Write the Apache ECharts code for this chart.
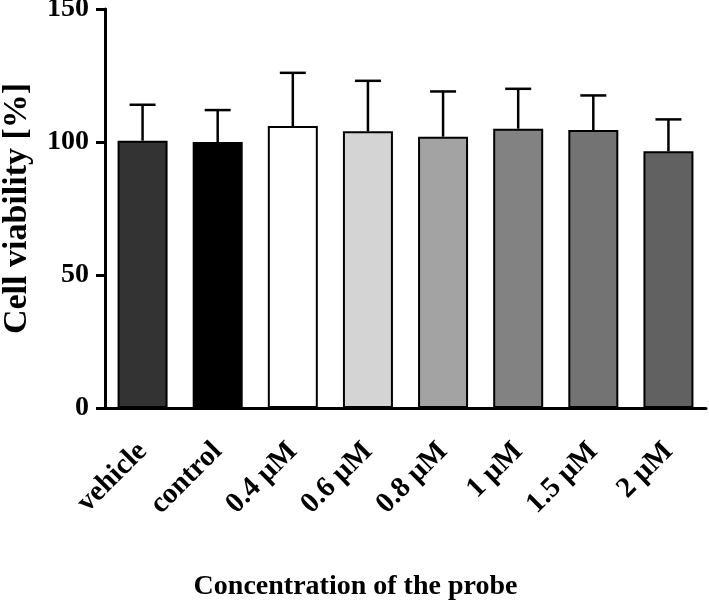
<!DOCTYPE html>
<html>
<head>
<meta charset="utf-8">
<script src="https://cdn.jsdelivr.net/npm/echarts@6/dist/echarts.min.js"></script>
<style>
  html, body { margin: 0; padding: 0; background: #fff; }
  #chart { width: 709px; height: 605px; }
</style>
</head>
<body>
<div id="chart"></div>
<script>
const categories = ['vehicle', 'control', '0.4 µM', '0.6 µM', '0.8 µM', '1 µM', '1.5 µM', '2 µM'];
const viability = [100.5, 100, 106, 104, 102, 105, 104.5, 96.5];
const errorUp = [13.5, 12, 20, 19, 17, 15, 13, 12];
const barColors = ['#333333', '#000000', '#ffffff', '#d4d4d4', '#a3a3a3', '#828282', '#737373', '#616161'];
const yTicks = [0, 50, 100, 150];

const font = 'Liberation Serif';
const chart = echarts.init(document.getElementById('chart'));

const option = {
  backgroundColor: '#fff',
  animation: false,
  grid: { left: 105, right: 3, top: 9, bottom: 197, containLabel: false, outerBoundsMode: 'none' },
  xAxis: {
    type: 'category',
    data: categories,
    name: 'Concentration of the probe',
    nameLocation: 'middle',
    nameGap: 165,
    nameTextStyle: {
      fontFamily: font, fontWeight: 'bold', fontSize: 28, color: '#000',
      padding: [0, 100, 0, 0]
    },
    axisLine: { lineStyle: { color: '#000', width: 3 } },
    axisTick: { alignWithLabel: true, length: 12, lineStyle: { color: '#000', width: 3 } },
    axisLabel: {
      rotate: 45,
      margin: 39,
      interval: 0,
      fontFamily: font,
      fontWeight: 'bold',
      fontSize: 29,
      color: '#000'
    }
  },
  yAxis: {
    type: 'value',
    min: yTicks[0],
    max: yTicks[yTicks.length - 1],
    interval: 50,
    name: 'Cell viability [%]',
    nameLocation: 'middle',
    nameGap: 71,
    nameTextStyle: { fontFamily: font, fontWeight: 'bold', fontSize: 34, color: '#000' },
    splitLine: { show: false },
    axisLine: { show: true, lineStyle: { color: '#000', width: 3 } },
    axisTick: { show: true, length: 9, lineStyle: { color: '#000', width: 3 } },
    axisLabel: {
      margin: 16,
      fontFamily: font,
      fontWeight: 'bold',
      fontSize: 28,
      color: '#000'
    }
  },
  series: [
    {
      type: 'bar',
      barWidth: 50,
      data: viability.map((v, i) => ({
        value: v,
        itemStyle: { color: barColors[i], borderColor: '#000', borderWidth: 2 }
      })),
      z: 2
    },
    {
      type: 'custom',
      z: 3,
      data: viability.map((v, i) => [i, v, v + errorUp[i]]),
      renderItem: function (params, api) {
        const base = api.coord([api.value(0), api.value(1)]);
        const top = api.coord([api.value(0), api.value(2)]);
        const half = 13;
        const style = { stroke: '#000', lineWidth: 2.5 };
        return {
          type: 'group',
          children: [
            { type: 'line', shape: { x1: base[0], y1: base[1], x2: top[0], y2: top[1] }, style: style },
            { type: 'line', shape: { x1: top[0] - half, y1: top[1], x2: top[0] + half, y2: top[1] }, style: style }
          ]
        };
      }
    }
  ]
};

chart.setOption(option);
</script>
</body>
</html>
